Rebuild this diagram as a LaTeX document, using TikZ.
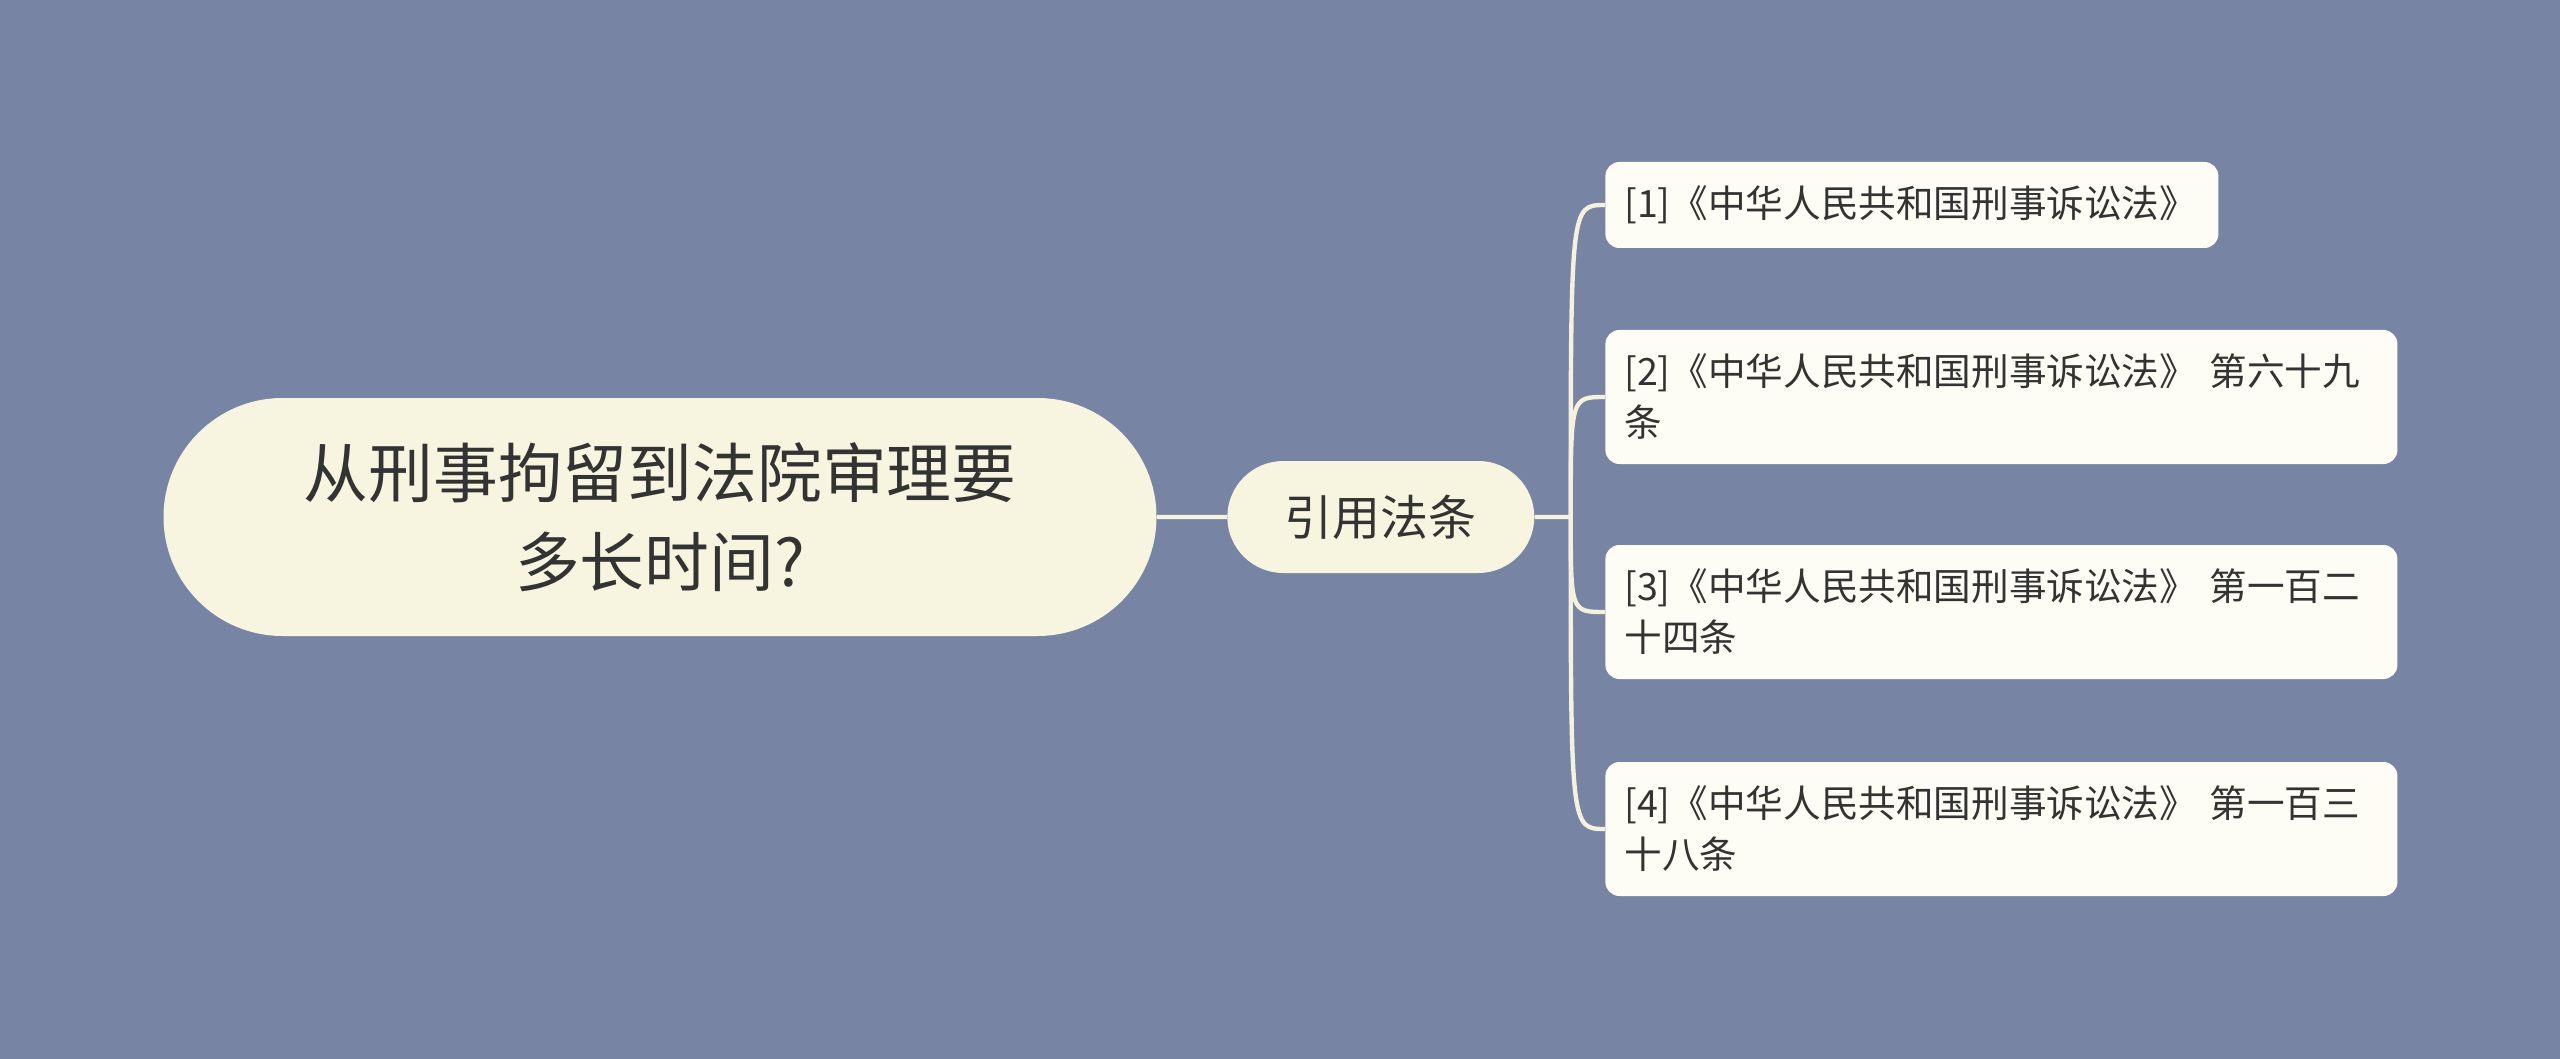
\documentclass[tikz,border=0pt]{standalone}
\usepackage{fontspec}
\setmainfont{Noto Sans CJK SC}
\usepackage{xcolor}
\usepackage{tikz}
\usetikzlibrary{positioning, shapes.misc}
\definecolor{bgblue}{HTML}{7784A4}
\definecolor{rootfill}{HTML}{F7F4DF}
\definecolor{leaffill}{HTML}{FDFDF5}
\definecolor{linecol}{HTML}{F5F1DC}
\definecolor{txt}{HTML}{333333}
\tikzset{%
	topic/.style={rounded rectangle, fill=rootfill, inner sep=0mm, text=txt,%
		minimum width=496.5pt, minimum height=119pt, align=center,%
		font=\fontsize{32.4pt}{44.5pt}\selectfont},
	sub/.style={rounded rectangle, fill=rootfill, inner sep=0mm, text=txt,%
		minimum width=153.5pt, minimum height=56pt,%
		font=\fontsize{24pt}{30pt}\selectfont},
	law/.style={rectangle, rounded corners=7pt, fill=leaffill, text=txt, anchor=west,%
		align=left, inner xsep=9.5pt, inner ysep=0pt, text width=377pt, minimum height=67pt,%
		font=\fontsize{18.8pt}{25.5pt}\selectfont},
	branch/.style={draw=linecol, line width=2.2pt}
}

\begin{document}
\begin{tikzpicture}[x=0.5pt, y=-0.5pt]
	\fill[bgblue] (0,0) rectangle (2560,1059);
	\useasboundingbox (0,0) rectangle (2560,1059);

	\node[topic] (root) at (660,517) {从刑事拘留到法院审理要\\多长时间?};
	\node[sub, right=35pt of root] (cite) {引用法条};
	\coordinate[right=18pt of cite] (fork);

	\node[law, text width=287.5pt, minimum height=43pt] (law1) at (1605,205) {[1]《中华人民共和国刑事诉讼法》};
	\node[law] (law2) at (1605,397) {[2]《中华人民共和国刑事诉讼法》~第六十九\\条};
	\node[law] (law3) at (1605,612) {[3]《中华人民共和国刑事诉讼法》~第一百二\\十四条};
	\node[law] (law4) at (1605,829) {[4]《中华人民共和国刑事诉讼法》~第一百三\\十八条};

	\draw[branch] (root) -- (cite);
	\draw[branch] (cite) -- (fork);
	\foreach \n in {law1, law2, law3, law4}
		\draw[branch] (fork) .. controls (fork |- \n.west) .. (\n.west);
\end{tikzpicture}
\end{document}
